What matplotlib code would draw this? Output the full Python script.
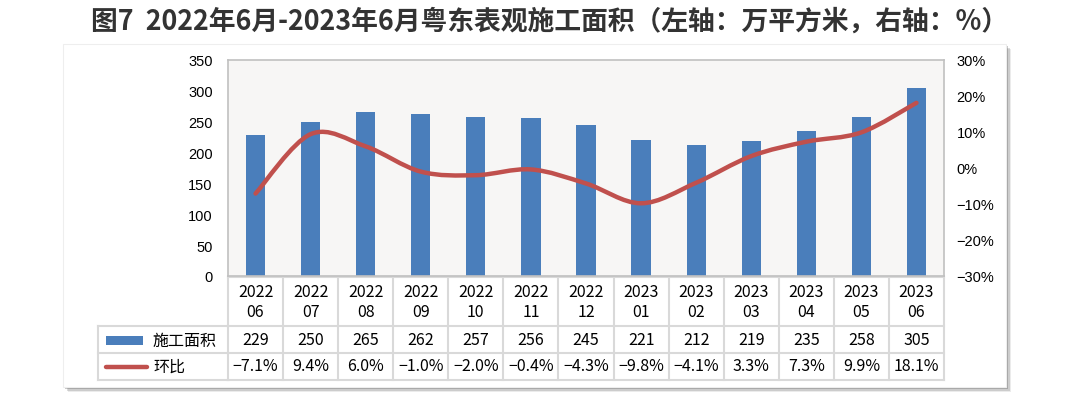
import numpy as np
import matplotlib
matplotlib.use('Agg')
import matplotlib.pyplot as plt
from matplotlib.path import Path
from matplotlib.patches import PathPatch, Rectangle
from matplotlib.transforms import Affine2D, blended_transform_factory

plt.rcParams['font.family'] = ['Noto Sans CJK SC', 'DejaVu Sans']

months = ['2022\n06', '2022\n07', '2022\n08', '2022\n09', '2022\n10', '2022\n11', '2022\n12',
          '2023\n01', '2023\n02', '2023\n03', '2023\n04', '2023\n05', '2023\n06']
area = [229, 250, 265, 262, 257, 256, 245, 221, 212, 219, 235, 258, 305]
mom = [-7.1, 9.4, 6.0, -1.0, -2.0, -0.4, -4.3, -9.8, -4.1, 3.3, 7.3, 9.9, 18.1]

title = '图7  2022年6月-2023年6月粤东表观施工面积（左轴：万平方米，右轴：%）'
bar_name = '施工面积'
line_name = '环比'

W, H = 1080, 410
blue = '#4a7ebb'
red = '#c0504d'
grid_c = '#d9d9d9'

fig = plt.figure(figsize=(W / 100, H / 100), dpi=100)
px = Affine2D().scale(1 / W, -1 / H).translate(0, 1) + fig.transFigure

# white frame with soft shadow
for k, a in enumerate([0.12, 0.22, 0.35]):
    off = 5 - k * 1.5
    fig.patches.append(Rectangle((63 + off, 45 + off), 943, 343, transform=px,
                                 facecolor='#606060', edgecolor='none', alpha=a, zorder=-3))
fig.patches.append(Rectangle((63, 45), 943, 343, transform=px,
                             facecolor='white', edgecolor='#eeeeee', lw=0.8, zorder=-2))

fig.text(550 / W, 1 - 22 / H, title, ha='center', va='center', fontsize=19.3,
         fontweight='bold', color='#333333')

ax = fig.add_axes([228 / W, 1 - 277 / H, (944 - 228) / W, (277 - 61) / H])
ax.set_facecolor('#f7f6f5')
n = len(area)
x = np.arange(n)
ax.bar(x, area, width=0.35, color=blue, zorder=2)
ax.set_xlim(-0.5, n - 0.5)
ax.set_ylim(0, 350)
ax.set_yticks(range(0, 351, 50))
ax.set_xticks([])
ax.tick_params(axis='y', length=0, pad=11, labelsize=10.5)
for lab in ax.get_yticklabels():
    lab.set_fontfamily('Liberation Sans')
for s in ax.spines.values():
    s.set_color('#c0c0c0')
    s.set_linewidth(1.2)

ax2 = ax.twinx()
ax2.set_ylim(-30, 30)
ax2.set_yticks(range(-30, 31, 10))
ax2.set_yticklabels([f'{v}%'.replace('-', '\u2212') for v in range(-30, 31, 10)])
ax2.tick_params(axis='y', length=0, pad=9, labelsize=10.5)
for lab in ax2.get_yticklabels():
    lab.set_fontfamily('Liberation Sans')
for s in ax2.spines.values():
    s.set_visible(False)

# smoothed line (Excel-style bezier through the points)
pts = np.column_stack([x, mom]).astype(float)
verts = [pts[0]]
codes = [Path.MOVETO]
for i in range(n - 1):
    p0 = pts[max(i - 1, 0)]
    p1 = pts[i]
    p2 = pts[i + 1]
    p3 = pts[min(i + 2, n - 1)]
    verts += [p1 + (p2 - p0) / 6, p2 - (p3 - p1) / 6, p2]
    codes += [Path.CURVE4] * 3
ax2.add_patch(PathPatch(Path(verts, codes), facecolor='none', edgecolor=red,
                        lw=3.2, capstyle='round', joinstyle='round', zorder=3))

# data table under the axis
bt = blended_transform_factory(ax.transData, px)
lw = 1.5
for yy, x0 in [(278, None), (327, 98), (354, 98), (381, 98)]:
    if x0 is None:
        ax.plot([-0.5, n - 0.5], [yy, yy], color=grid_c, lw=lw, transform=bt, clip_on=False)
    else:
        fig.add_artist(plt.Line2D([x0, 228], [yy, yy], color=grid_c, lw=lw, transform=px))
        ax.plot([-0.5, n - 0.5], [yy, yy], color=grid_c, lw=lw, transform=bt, clip_on=False)
for k in range(n + 1):
    ax.plot([k - 0.5, k - 0.5], [278, 381], color=grid_c, lw=lw, transform=bt, clip_on=False)
fig.add_artist(plt.Line2D([98, 98], [327, 381], color=grid_c, lw=lw, transform=px))

for i in range(n):
    top, bot = months[i].split('\n')
    ax.text(i, 293, top, transform=bt, ha='center', va='center', fontsize=11.5, clip_on=False)
    ax.text(i, 313, bot, transform=bt, ha='center', va='center', fontsize=11.5, clip_on=False)
    ax.text(i, 341, str(area[i]), transform=bt, ha='center', va='center', fontsize=11.5, clip_on=False)
    ax.text(i, 367, f'{mom[i]:.1f}%'.replace('-', '\u2212'), transform=bt, ha='center',
            va='center', fontsize=11.5, clip_on=False)

fig.patches.append(Rectangle((106, 337), 37, 9, transform=px, facecolor=blue, edgecolor='none'))
fig.add_artist(plt.Line2D([106, 147], [368, 368], color=red, lw=3.2, transform=px,
                          solid_capstyle='round'))
fig.text(153 / W, 1 - 341 / H, bar_name, ha='left', va='center', fontsize=11.5)
fig.text(153 / W, 1 - 367 / H, line_name, ha='left', va='center', fontsize=11.5)

fig.savefig('out.png', dpi=100, facecolor='white')
